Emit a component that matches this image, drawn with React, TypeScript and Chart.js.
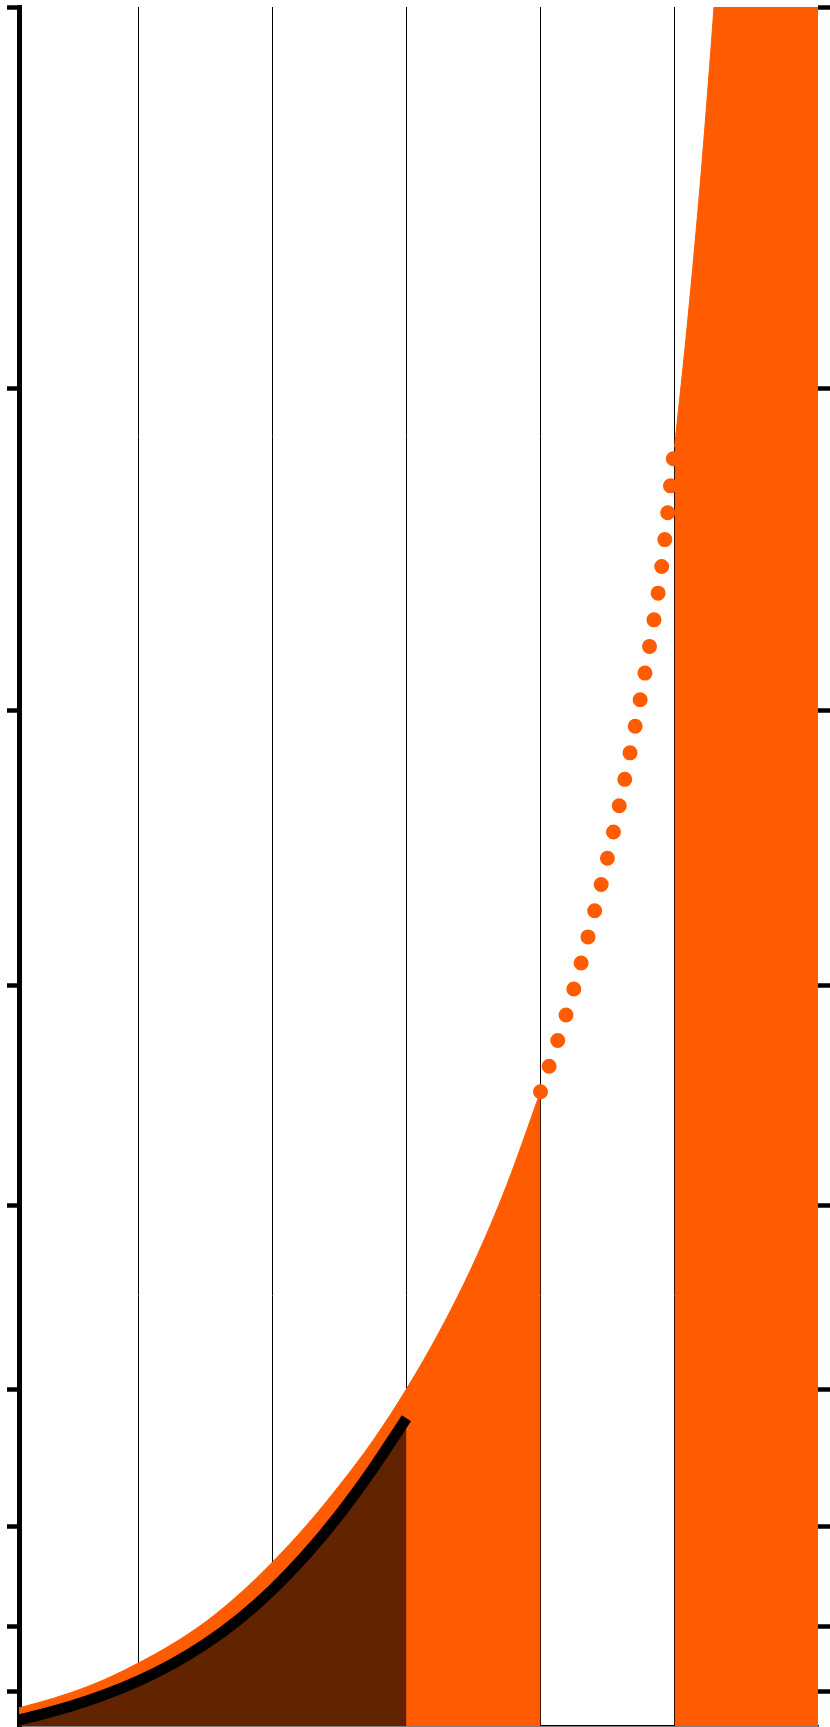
import React, { useEffect, useRef } from "react";
import Chart from "chart.js/auto";

// Axis ticks (x: vertical grid positions, y: tick marks on both sides)
const xTicks = [1, 2, 3, 4, 5];
const yTicks = [2, 5.8, 11.6, 19.6, 30.3, 43.1, 59.1, 77.8, 100];

// Orange curve, first filled part
const orangeX1 = [0, 0.25, 0.5, 0.75, 1, 1.25, 1.5, 1.75, 2, 2.25, 2.5, 2.75, 3, 3.25, 3.5, 3.75, 4];
const orangeY1 = [0.83, 1.35, 1.95, 2.71, 3.66, 4.75, 6.05, 7.65, 9.53, 11.63, 14.0, 16.6, 19.6, 23.0, 26.9, 31.5, 36.9];
// Orange curve, dotted part
const dotX = [4, 4.1, 4.2, 4.3, 4.4, 4.5, 4.6, 4.7, 4.8, 4.9, 5];
const dotY = [36.9, 39.2, 41.6, 44.3, 47.3, 50.5, 54.0, 57.9, 62.2, 67.2, 74.4];
// Orange curve, second filled part
const orangeX2 = [5, 5.1, 5.2, 5.3, 5.4, 5.6, 5.8, 6.1];
const orangeY2 = [74.4, 81.9, 90.5, 100.6, 112, 140, 175, 240];
// Black curve with dark fill
const blackX = [0, 0.25, 0.5, 0.75, 1, 1.25, 1.5, 1.75, 2, 2.25, 2.5, 2.75, 3];
const blackY = [0.16, 0.62, 1.16, 1.82, 2.62, 3.59, 4.77, 6.2, 7.92, 9.95, 12.3, 14.96, 17.9];

const ORANGE = "#FF5B00";
const BROWN = "#622300";

const zip = (xs: number[], ys: number[]) => xs.map((x, i) => ({ x, y: ys[i] }));

export default function App() {
  const ref = useRef<HTMLCanvasElement | null>(null);
  useEffect(() => {
    document.body.style.margin = "0";
    const canvas = ref.current;
    if (!canvas) return;
    const setTicks = (vals: number[]) => (scale: any) => {
      scale.ticks = vals.map((v) => ({ value: v }));
    };
    const chart = new Chart(canvas, {
      type: "line",
      data: {
        datasets: [
          {
            data: zip(blackX, blackY),
            borderColor: "#000000",
            borderWidth: 11,
            backgroundColor: BROWN,
            fill: "origin",
            pointRadius: 0,
            cubicInterpolationMode: "monotone",
            order: 0,
          },
          {
            data: zip(orangeX2, orangeY2),
            borderColor: ORANGE,
            borderWidth: 1,
            backgroundColor: ORANGE,
            fill: "origin",
            pointRadius: 0,
            cubicInterpolationMode: "monotone",
            order: 1,
          },
          {
            data: zip(dotX, dotY),
            borderColor: ORANGE,
            borderWidth: 15,
            borderDash: [0, 27],
            borderCapStyle: "round",
            fill: false,
            pointRadius: 0,
            cubicInterpolationMode: "monotone",
            order: 2,
          },
          {
            data: zip(orangeX1, orangeY1),
            borderColor: ORANGE,
            borderWidth: 1,
            backgroundColor: ORANGE,
            fill: "origin",
            pointRadius: 0,
            cubicInterpolationMode: "monotone",
            order: 3,
          },
        ],
      },
      options: {
        animation: false,
        responsive: false,
        devicePixelRatio: 1,
        layout: { padding: { left: 7, top: 7, right: 0, bottom: 1 } },
        plugins: { legend: { display: false }, tooltip: { enabled: false } },
        scales: {
          x: {
            type: "linear",
            min: 0.11,
            max: 6.07,
            z: 1,
            afterBuildTicks: setTicks(xTicks),
            ticks: { display: false },
            grid: { color: "#000000", lineWidth: 1, drawTicks: false },
            border: { display: true, color: "#000000", width: 1.5 },
          },
          y: {
            type: "linear",
            position: "left",
            min: 0,
            max: 100,
            afterBuildTicks: setTicks(yTicks),
            ticks: { display: false },
            grid: {
              drawOnChartArea: false,
              drawTicks: true,
              tickLength: 12,
              tickWidth: 4.5,
              tickColor: "#000000",
            },
            border: { display: true, color: "#000000", width: 5 },
          },
          y2: {
            type: "linear",
            position: "right",
            min: 0,
            max: 100,
            afterBuildTicks: setTicks(yTicks),
            ticks: { display: false },
            grid: {
              drawOnChartArea: false,
              drawTicks: true,
              tickLength: 12,
              tickWidth: 4.5,
              tickColor: "#000000",
            },
            border: { display: false },
          },
        },
      },
    } as any);
    return () => chart.destroy();
  }, []);
  return (
    <div style={{ width: 830, height: 1727 }}>
      <canvas ref={ref} width={830} height={1727} style={{ display: "block" }} />
    </div>
  );
}
